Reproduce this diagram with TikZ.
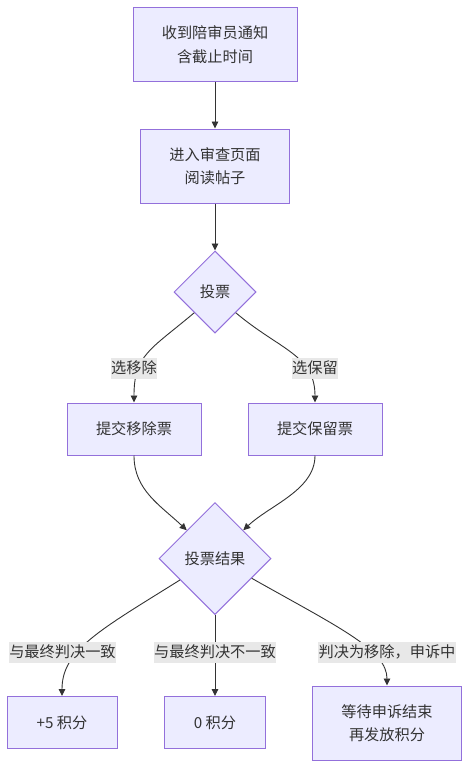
\documentclass[tikz,border=0pt]{standalone}
\usepackage{fontspec}
\setmainfont{Noto Sans CJK SC}
\usepackage{xcolor}
\usepackage{tikz}
\usetikzlibrary{arrows.meta,shapes.geometric,calc}
\definecolor{nodefill}{HTML}{ECECFF}
\definecolor{nodeline}{HTML}{9370DB}
\definecolor{edgecol}{HTML}{333333}
\definecolor{labelbg}{HTML}{E8E8E8}

\begin{document}
\begin{tikzpicture}[x=1pt, y=-1pt, font=\fontsize{15.2}{23.5}\selectfont, text=edgecol,
  box/.style={draw=nodeline, fill=nodefill, line width=1pt, align=center, inner sep=0pt},
  decision/.style={diamond, aspect=1, draw=nodeline, fill=nodefill, line width=1pt, inner sep=0pt},
  flow/.style={draw=edgecol, line width=0.9pt, -{Triangle[length=7pt,width=6.5pt]}},
  lbl/.style={fill=labelbg, inner xsep=0.5pt, inner ysep=0pt, minimum height=21pt}]
  \useasboundingbox (0,0) rectangle (469,768);

  % steps
  \node[box, minimum width=164pt, minimum height=73pt] (notice) at (215,44.5) {收到陪审员通知\\含截止时间};
  \node[box, minimum width=149pt, minimum height=74pt] (review) at (215,166) {进入审查页面\\阅读帖子};
  \node[decision, minimum width=82pt, minimum height=82pt] (vote) at (215,292) {投票};
  \node[box, minimum width=134pt, minimum height=52pt] (remove) at (134,429) {提交移除票};
  \node[box, minimum width=134pt, minimum height=52pt] (keep) at (315,429) {提交保留票};
  \node[decision, minimum width=112pt, minimum height=112pt] (result) at (215,558.5) {投票结果};
  \node[box, minimum width=110pt, minimum height=52pt] (plus) at (62,722.5) {+5 积分};
  \node[box, minimum width=101pt, minimum height=52pt] (zero) at (215,722.5) {0 积分};
  \node[box, minimum width=149pt, minimum height=74pt] (appeal) at (387,723) {等待申诉结束\\再发放积分};

  % connectors
  \draw[flow] (notice) -- (review);
  \draw[flow] (review) -- (vote);
  \draw[flow] (vote.south west) .. controls (150,350) and (134,355) .. (remove.north);
  \draw[flow] (vote.south east) .. controls (280,350) and (315,355) .. (keep.north);
  \draw[flow] (remove.south) .. controls (134,490) and (160,505) .. (result.north west);
  \draw[flow] (keep.south) .. controls (315,490) and (270,505) .. (result.north east);
  \draw[flow] ($(result.west)!0.38!(result.south)$) .. controls (100,630) and (62,650) .. (plus.north);
  \draw[flow] (result) -- (zero);
  \draw[flow] ($(result.east)!0.35!(result.south)$) .. controls (340,628) and (387,650) .. (appeal.north);

  % edge labels
  \node[lbl] (lremove) at (134,368) {选移除};
  \node[lbl] (lkeep) at (315,368) {选保留};
  \node[lbl] (lagree) at (62.5,652) {与最终判决一致};
  \node[lbl] (ldisagree) at (215,652) {与最终判决不一致};
  \node[lbl] (lappeal) at (387,652) {判决为移除，申诉中};
\end{tikzpicture}
\end{document}
